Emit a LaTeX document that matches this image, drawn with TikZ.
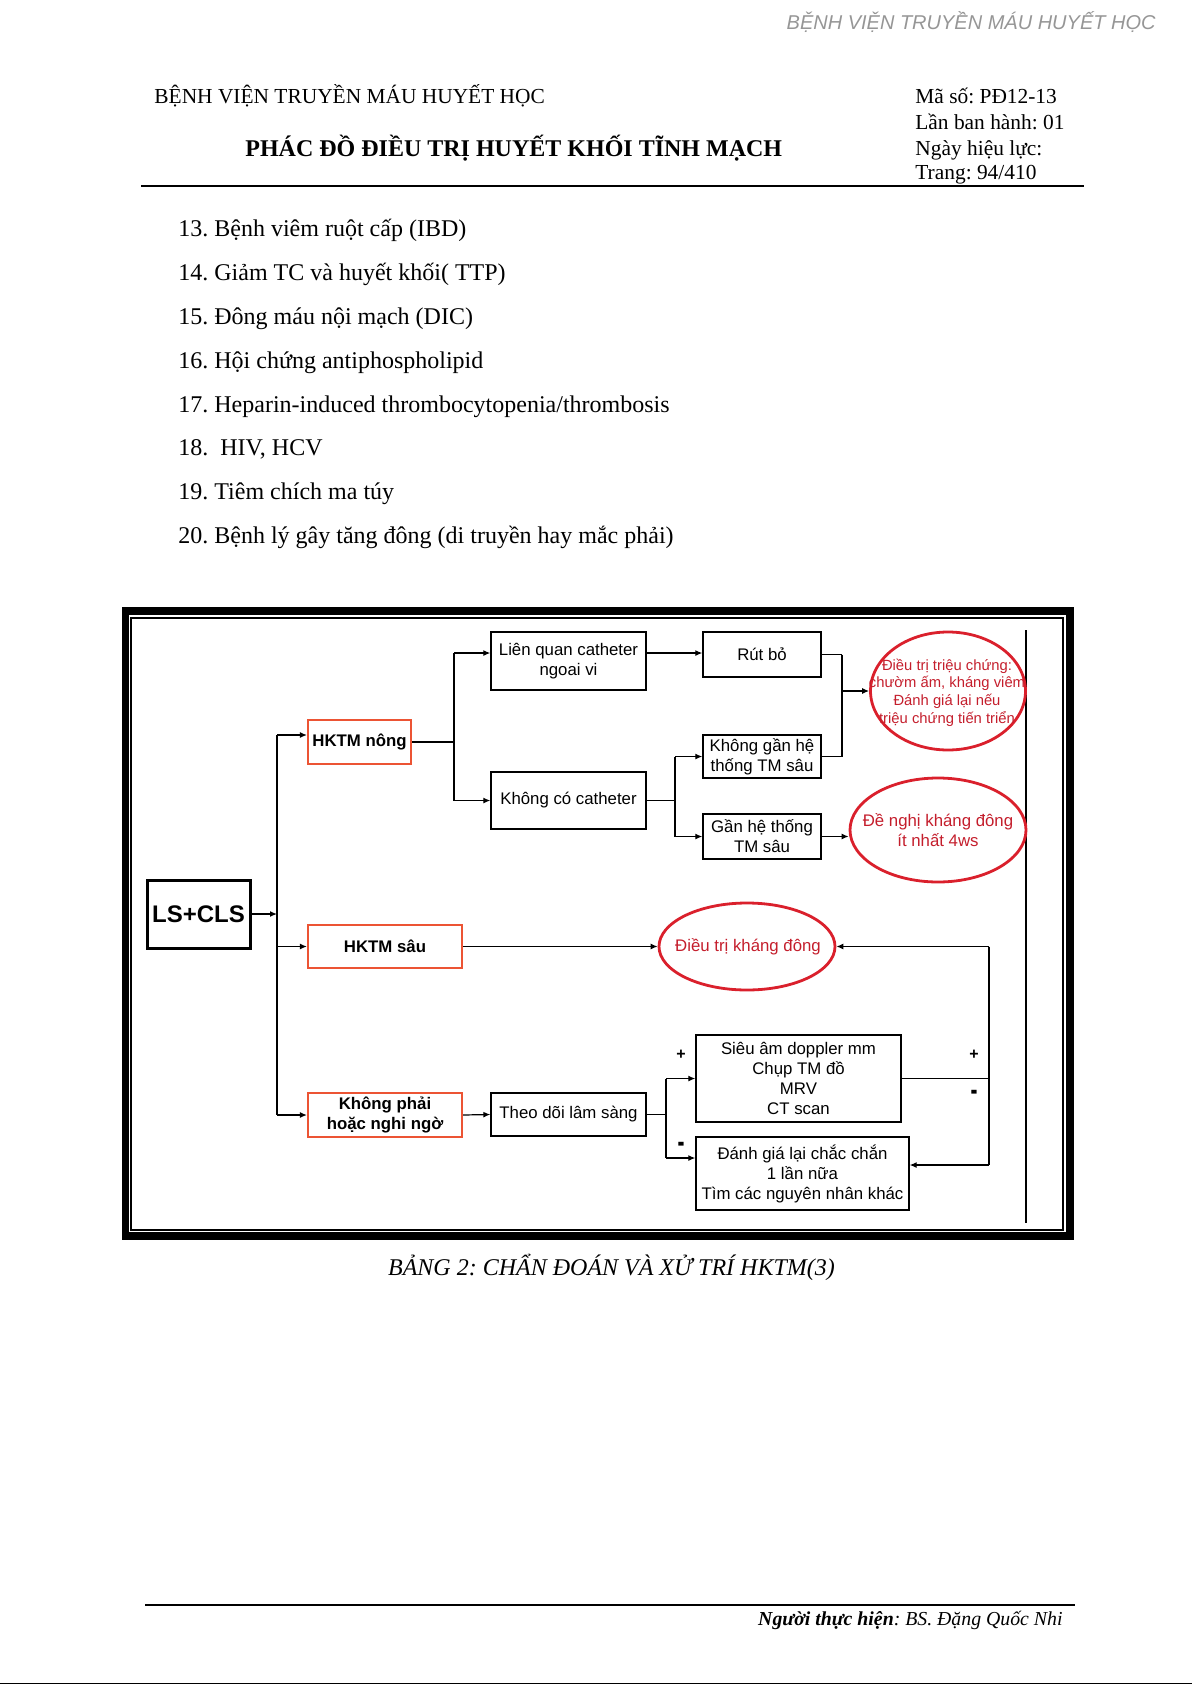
\documentclass[tikz,border=0pt]{standalone}
\usepackage{fontspec}
\setmainfont{Liberation Serif}
\newfontfamily\arialfont{Liberation Sans}
\usetikzlibrary{arrows.meta, shapes.geometric}
\frenchspacing

\definecolor{boxred}{RGB}{236,84,52}
\definecolor{ovalred}{RGB}{218,32,44}
\definecolor{ovaltext}{RGB}{196,30,44}
\definecolor{markgray}{RGB}{150,150,150}

\tikzset{
  arr/.style={-{Latex[length=3.5pt,width=3pt]}, line width=0.6pt},
  wire/.style={line width=0.6pt},
  startbox/.style={draw, line width=1.5pt, inner sep=1pt, font=\arialfont\bfseries\fontsize{12}{14}\selectfont},
  plainbox/.style={draw, line width=0.7pt, inner sep=1pt, align=center, font=\arialfont\fontsize{8.4}{10}\selectfont},
  redbox/.style={draw=boxred, line width=1.1pt, inner sep=1pt, align=center, font=\arialfont\bfseries\fontsize{8.4}{10}\selectfont},
  oval/.style={ellipse, draw=ovalred, line width=1.4pt, inner sep=0pt},
  ovallabel/.style={inner sep=0pt, align=center, text=ovaltext, font=\arialfont\fontsize{8.4}{10}\selectfont},
  sign/.style={inner sep=0pt, font=\arialfont\bfseries\fontsize{8}{8}\selectfont},
  pagetext/.style={anchor=base west, inner sep=0pt, font=\fontsize{12}{14}\selectfont},
  headtext/.style={anchor=base west, inner sep=0pt, font=\fontsize{10.7}{12}\selectfont},
}
\newcommand{\thickminus}{\scalebox{1.3}[2]{-}}

\begin{document}
\begin{tikzpicture}[x=0.5pt, y=-0.5pt]
    \useasboundingbox (0, 0) rectangle (1192, 1685);

    % page header
    \node[anchor=base east, inner sep=0pt, text=markgray, font=\arialfont\itshape\fontsize{10}{12}\selectfont] at (1156, 30) (mark) {BỆNH VIỆN TRUYỀN MÁU HUYẾT HỌC};
    \node[headtext] at (154, 104) (hosp) {BỆNH VIỆN TRUYỀN MÁU HUYẾT HỌC};
    \node[anchor=base west, inner sep=0pt, font=\bfseries\fontsize{12}{14}\selectfont] at (245, 157) (title) {PHÁC ĐỒ ĐIỀU TRỊ HUYẾT KHỐI TĨNH MẠCH};
    \node[headtext] at (915, 104) (code) {Mã số: PĐ12-13};
    \node[headtext] at (915, 130) (issue) {Lần ban hành: 01};
    \node[headtext] at (915, 156) (valid) {Ngày hiệu lực:};
    \node[headtext] at (915, 180) (page) {Trang: 94/410};
    \draw[line width=0.6pt] (141, 186) -- (1084, 186);

    % list
    \node[pagetext] at (178, 236) (item13) {13. Bệnh viêm ruột cấp (IBD)};
    \node[pagetext] at (178, 280) (item14) {14. Giảm TC và huyết khối( TTP)};
    \node[pagetext] at (178, 324) (item15) {15. Đông máu nội mạch (DIC)};
    \node[pagetext] at (178, 368) (item16) {16. Hội chứng antiphospholipid};
    \node[pagetext] at (178, 412) (item17) {17. Heparin-induced thrombocytopenia/thrombosis};
    \node[pagetext] at (178, 455) (item18) {18.\ \ HIV, HCV};
    \node[pagetext] at (178, 499) (item19) {19. Tiêm chích ma túy};
    \node[pagetext] at (178, 543) (item20) {20. Bệnh lý gây tăng đông (di truyền hay mắc phải)};

    % frame
    \draw[line width=3.8pt] (125.5, 611) rectangle (1070, 1236);
    \draw[line width=0.6pt] (131, 618) rectangle (1063, 1230);
    \draw[line width=0.8pt] (1026, 630) -- (1026, 1223);

    % boxes
    \node[startbox, minimum width=51.5pt, minimum height=34pt] at (198.5, 914) (lscls) {LS+CLS};

    \node[redbox, minimum width=51.5pt, minimum height=22pt] at (359.5, 742) (nong) {HKTM nông};
    \node[redbox, minimum width=77pt, minimum height=21.5pt] at (385, 946.5) (sau) {HKTM sâu};
    \node[redbox, minimum width=77pt, minimum height=22pt] at (385, 1115) (khongphai) {Không phải\\hoặc nghi ngờ};

    \node[plainbox, minimum width=77.5pt, minimum height=29pt] at (568.5, 661) (lienquan) {Liên quan catheter\\ngoai vi};
    \node[plainbox, minimum width=77.5pt, minimum height=28.5pt] at (568.5, 800.5) (khongco) {Không có catheter};
    \node[plainbox, minimum width=59pt, minimum height=22.5pt] at (762, 654.5) (rutbo) {Rút bỏ};
    \node[plainbox, minimum width=59pt, minimum height=21.5pt] at (762, 756.5) (khonggan) {Không gần hệ\\thống TM sâu};
    \node[plainbox, minimum width=59pt, minimum height=22.5pt] at (762, 836.5) (ganhe) {Gần hệ thống\\TM sâu};
    \node[plainbox, minimum width=77.5pt, minimum height=21.5pt] at (568.5, 1114.5) (theodoi) {Theo dõi lâm sàng};
    \node[plainbox, minimum width=102.5pt, minimum height=43.5pt] at (798.5, 1078.5) (sieuam) {Siêu âm doppler mm\\Chụp TM đồ\\MRV\\CT scan};
    \node[plainbox, minimum width=106.5pt, minimum height=36.5pt] at (802.5, 1173.5) (danhgia) {Đánh giá lại chắc chắn\\1 lần nữa\\Tìm các nguyên nhân khác};

    % ovals
    \node[oval, minimum width=77.5pt, minimum height=59pt] at (948, 691) (symptom) {};
    \node[ovallabel, font=\arialfont\fontsize{7.4}{8.8}\selectfont] at (947, 692.5) (symptomtext) {Điều trị triệu chứng:\\chườm ấm, kháng viêm\\Đánh giá lại nếu\\triệu chứng tiến triển};
    \node[oval, minimum width=88pt, minimum height=52pt] at (938, 830) (fourws) {};
    \node[ovallabel] at (938, 830) (fourwstext) {Đề nghị kháng đông\\ít nhất 4ws};
    \node[oval, minimum width=88pt, minimum height=43.5pt] at (747, 946.5) (anticoag) {};
    \node[ovallabel] at (748, 946.5) (anticoagtext) {Điều trị kháng đông};

    % signs
    \node[sign] at (681, 1055) (plusA) {+};
    \node[sign] at (681, 1147) (minusA) {\thickminus};
    \node[sign] at (974, 1055) (plusB) {+};
    \node[sign] at (974, 1095) (minusB) {\thickminus};

    % junctions
    \coordinate (t1) at (277, 735);
    \coordinate (t3) at (277, 1115);
    \coordinate (b1) at (454, 653);
    \coordinate (b2) at (454, 800.5);
    \coordinate (c1) at (675, 756.5);
    \coordinate (c2) at (675, 836.5);
    \coordinate (d1) at (842, 654.5);
    \coordinate (d2) at (842, 756.5);
    \coordinate (d3) at (842, 691);
    \coordinate (f1) at (666, 1078.5);
    \coordinate (f2) at (666, 1158);
    \coordinate (g1) at (989, 946.5);
    \coordinate (g2) at (989, 1078.5);
    \coordinate (g3) at (989, 1165);

    \draw[arr] (lscls.east) -- (lscls.east -| t1);
    \draw[wire] (t1) -- (t3);
    \draw[arr] (t1) -- (nong.west |- t1);
    \draw[arr] (sau.west -| t1) -- (sau.west);
    \draw[arr] (t3) -- (khongphai.west);

    \draw[wire] (nong.east) -- (nong.east -| b1);
    \draw[wire] (b1) -- (b2);
    \draw[arr] (b1) -- (b1 -| lienquan.west);
    \draw[arr] (b2) -- (khongco.west);
    \draw[arr] (b1 -| lienquan.east) -- (b1 -| rutbo.west);

    \draw[wire] (khongco.east) -- (khongco.east -| c1);
    \draw[wire] (c1) -- (c2);
    \draw[arr] (c1) -- (khonggan.west);
    \draw[arr] (c2) -- (ganhe.west);

    \draw[wire] (rutbo.east) -- (d1);
    \draw[wire] (khonggan.east) -- (d2);
    \draw[wire] (d1) -- (d2);
    \draw[arr] (d3) -- (symptom.west);
    \draw[arr] (ganhe.east) -- (ganhe.east -| fourws.west);

    \draw[arr] (sau.east) -- (anticoag.west);
    \draw[arr] (khongphai.east) -- (theodoi.west);

    \draw[wire] (theodoi.east) -- (theodoi.east -| f1);
    \draw[wire] (f1) -- (f2);
    \draw[arr] (f1) -- (sieuam.west);
    \draw[arr] (f2) -- (f2 -| danhgia.west);

    \draw[wire] (sieuam.east) -- (g2);
    \draw[wire] (g1) -- (g3);
    \draw[arr] (g1) -- (anticoag.east);
    \draw[arr] (g3) -- (g3 -| danhgia.east);

    % caption and footer
    \node[anchor=base, inner sep=0pt, font=\itshape\fontsize{12}{14}\selectfont] at (611.5, 1275) (caption) {BẢNG 2: CHẨN ĐOÁN VÀ XỬ TRÍ HKTM(3)};
    \draw[line width=1pt] (145, 1605) -- (1075, 1605);
    \node[anchor=base east, inner sep=0pt, font=\itshape\fontsize{9.9}{12}\selectfont] at (1063, 1625) (author) {\textbf{Người thực hiện}: BS. Đặng Quốc Nhi};
    \draw[line width=0.5pt] (0, 1683) -- (1192, 1683);
\end{tikzpicture}
\end{document}
